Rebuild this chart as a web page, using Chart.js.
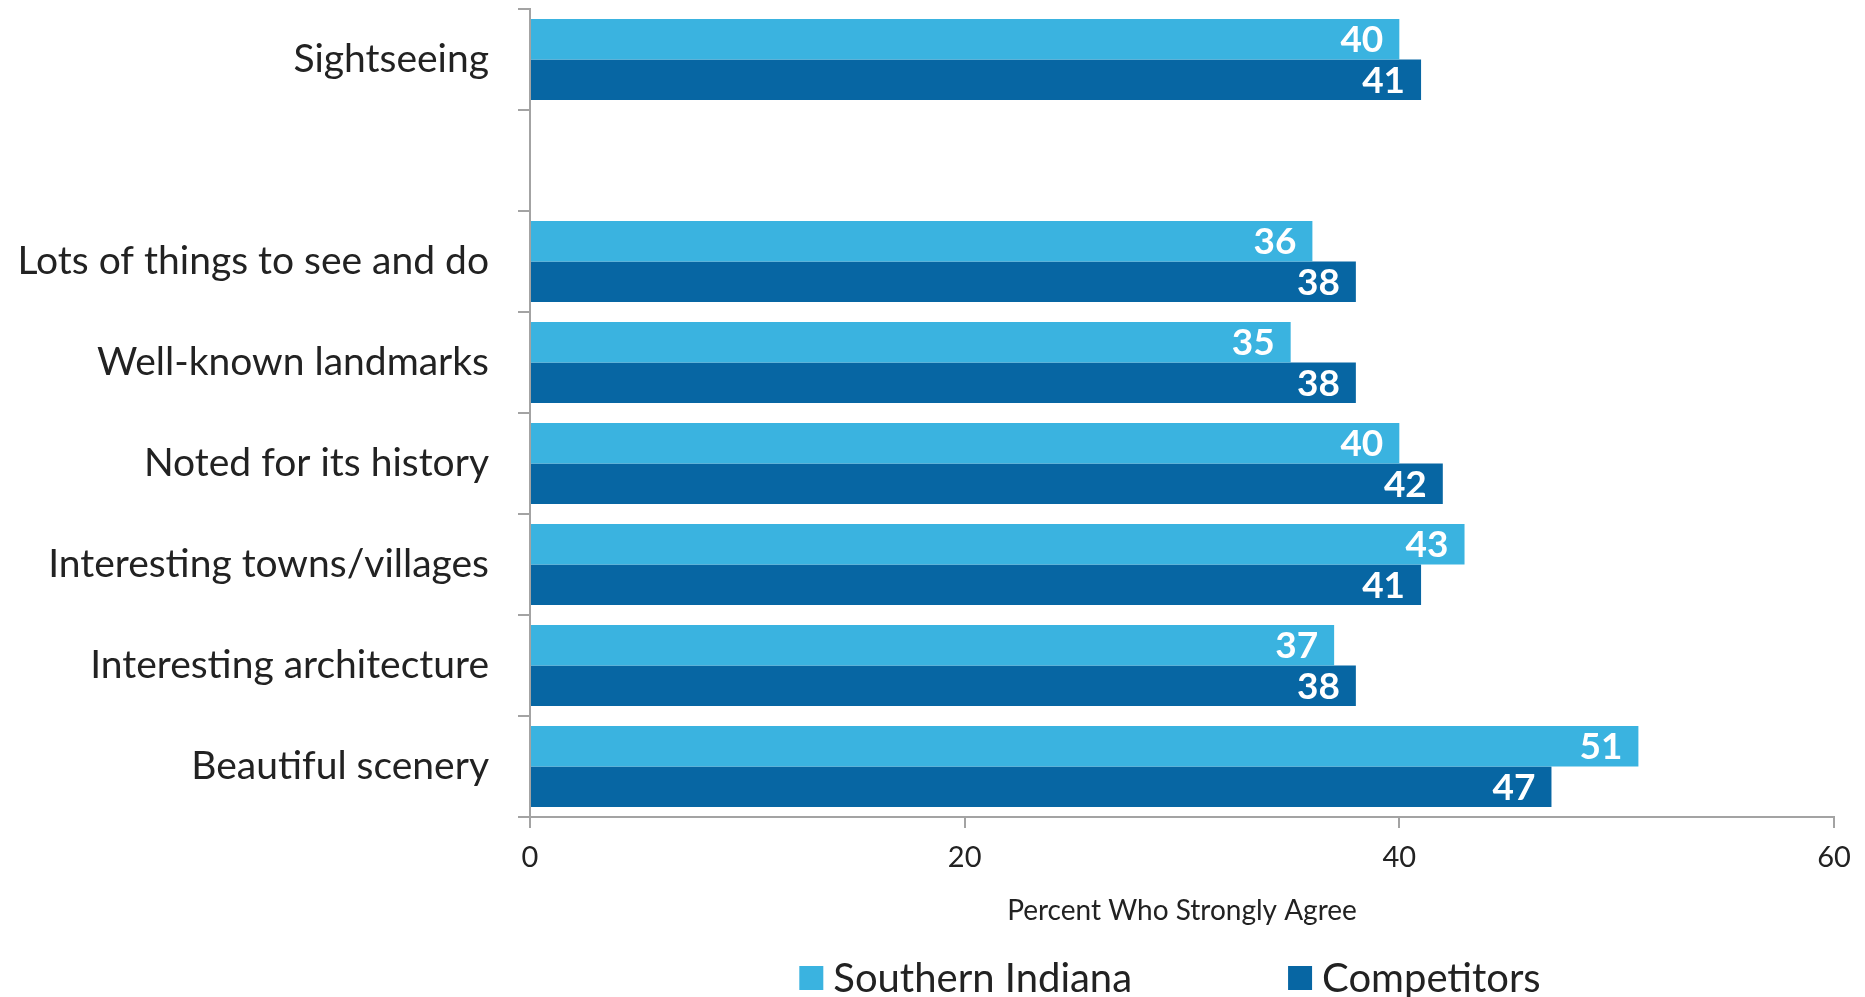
<!DOCTYPE html>
<html>
<head>
<meta charset="utf-8">
<script src="https://cdn.jsdelivr.net/npm/chart.js@4.4.1/dist/chart.umd.min.js"></script>
<style>
  html, body { margin: 0; padding: 0; background: #ffffff; }
  canvas { display: block; }
</style>
</head>
<body>
<canvas id="chart" width="1865" height="997"></canvas>
<script>
// Attributes rated, with an empty row separating "Sightseeing" from the rest
const categories = [
  'Sightseeing',
  '',
  'Lots of things to see and do',
  'Well-known landmarks',
  'Noted for its history',
  'Interesting towns/villages',
  'Interesting architecture',
  'Beautiful scenery'
];
const southernIndiana = [40, null, 36, 35, 40, 43, 37, 51];
const competitors     = [41, null, 38, 38, 42, 41, 38, 47];
const seriesNames = ['Southern Indiana', 'Competitors'];
const xTicks = [0, 20, 40, 60];
const axisTitle = 'Percent Who Strongly Agree';

const LIGHT = '#3ab3e0';
const DARK = '#0766a3';
const AXIS = '#a3a3a3';
const TEXT = '#222222';
const FONT = 'Lato, "Open Sans", sans-serif';

// White value labels placed inside the end of each bar
const valueLabels = {
  id: 'valueLabels',
  afterDatasetsDraw(chart) {
    const ctx = chart.ctx;
    ctx.save();
    ctx.font = 'bold 37px ' + FONT;
    ctx.fillStyle = '#ffffff';
    ctx.textAlign = 'right';
    ctx.textBaseline = 'middle';
    chart.data.datasets.forEach((ds, di) => {
      const meta = chart.getDatasetMeta(di);
      meta.data.forEach((bar, i) => {
        const v = ds.data[i];
        if (v === null || v === undefined) return;
        ctx.fillText(String(v), bar.x - 16, bar.y + 1);
      });
    });
    ctx.restore();
  }
};

// Legend row under the axis title, with wide spacing between entries
const legendRow = {
  id: 'legendRow',
  afterDraw(chart) {
    const ctx = chart.ctx;
    const area = chart.chartArea;
    ctx.save();
    ctx.font = '40px ' + FONT;
    ctx.textBaseline = 'middle';
    ctx.textAlign = 'left';
    const box = 24, gapText = 10, gapItem = 156;
    const items = chart.data.datasets.map(ds => ({
      text: ds.label, color: ds.backgroundColor, w: ctx.measureText(ds.label).width
    }));
    let total = 0;
    items.forEach((it, i) => { total += box + gapText + it.w + (i ? gapItem : 0); });
    let x = (area.left + area.right) / 2 - 12 - total / 2;
    const cy = 978;
    items.forEach(it => {
      ctx.fillStyle = it.color;
      ctx.fillRect(x, cy - box / 2, box, box);
      ctx.fillStyle = TEXT;
      ctx.fillText(it.text, x + box + gapText, cy + 1);
      x += box + gapText + it.w + gapItem;
    });
    ctx.restore();
  }
};

new Chart(document.getElementById('chart'), {
  type: 'bar',
  data: {
    labels: categories,
    datasets: [
      { label: seriesNames[0], data: southernIndiana, backgroundColor: LIGHT },
      { label: seriesNames[1], data: competitors, backgroundColor: DARK }
    ]
  },
  options: {
    indexAxis: 'y',
    responsive: false,
    animation: false,
    categoryPercentage: 0.8,
    barPercentage: 1.0,
    layout: { padding: { top: 9, right: 31, bottom: 69, left: 0 } },
    plugins: {
      legend: { display: false },
      tooltip: { enabled: false }
    },
    scales: {
      x: {
        type: 'linear',
        min: xTicks[0],
        max: xTicks[xTicks.length - 1],
        afterBuildTicks(scale) { scale.ticks = xTicks.map(v => ({ value: v })); },
        afterFit(scale) { scale.height = 111; },
        grid: { drawOnChartArea: false, drawTicks: true, tickLength: 11, color: AXIS, lineWidth: 2 },
        border: { display: true, color: AXIS, width: 2 },
        ticks: { font: { family: FONT, size: 29 }, color: TEXT, padding: 12 },
        title: { display: true, text: axisTitle, font: { family: FONT, size: 28 }, color: TEXT, padding: 0 }
      },
      y: {
        type: 'category',
        afterFit(scale) {
          scale.width = 530;
          scale.paddingTop = 0;
          scale.paddingBottom = 0;
        },
        grid: { offset: true, drawOnChartArea: false, drawTicks: true, tickLength: 12, color: AXIS, lineWidth: 2 },
        border: { display: true, color: AXIS, width: 2 },
        ticks: { font: { family: FONT, size: 39 }, color: TEXT, padding: 29 }
      }
    }
  },
  plugins: [valueLabels, legendRow]
});
</script>
</body>
</html>
